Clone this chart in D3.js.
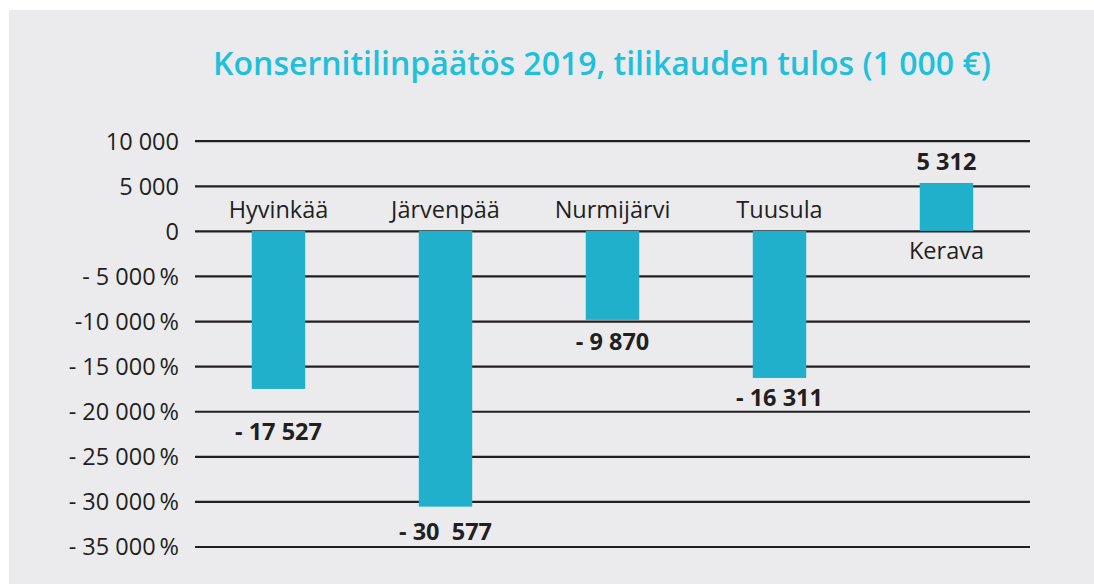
<!DOCTYPE html>
<html>
<head>
<meta charset="utf-8">
<script src="https://cdn.jsdelivr.net/npm/d3@7"></script>
<style>
  body { margin: 0; background: #ffffff; }
  text { font-family: "Open Sans", sans-serif; }
</style>
</head>
<body>
<div id="chart"></div>
<script>
// Data
var municipalities = ["Hyvinkää", "Järvenpää", "Nurmijärvi", "Tuusula", "Kerava"];
var results = [-17527, -30577, -9870, -16311, 5312];
var resultLabels = ["- 17 527", "- 30  577", "- 9 870", "- 16 311", "5 312"];
var tickValues = [10000, 5000, 0, -5000, -10000, -15000, -20000, -25000, -30000, -35000];
var tickLabels = ["10 000", "5 000", "0", "- 5 000\u2009%", "-10 000\u2009%", "- 15 000\u2009%",
  "- 20 000\u2009%", "- 25 000\u2009%", "- 30 000\u2009%", "- 35 000\u2009%"];
var chartTitle = "Konsernitilinpäätös 2019, tilikauden tulos (1 000 €)";

var svgWidth = 1094;
var svgHeight = 584;

// value label nudges (px below/above the bar end)
var valueLabelDy = [51, 33, 30, 28, -13];

var svg = d3.select("#chart")
  .append("svg")
  .attr("width", svgWidth)
  .attr("height", svgHeight);

// grey panel
svg.append("rect")
  .attr("x", 9)
  .attr("y", 10)
  .attr("width", svgWidth - 9)
  .attr("height", svgHeight - 10)
  .attr("fill", "#ebebed");

// Scales
var xBandScale = d3.scaleBand()
  .domain(municipalities)
  .range([195, 1030])
  .paddingInner(0.68)
  .paddingOuter(0.34);

var yLinearScale = d3.scaleLinear()
  .domain([10000, -35000])
  .range([140.7, 546.5]);

// Gridlines + tick labels through the axis
var leftAxis = d3.axisLeft(yLinearScale)
  .tickValues(tickValues)
  .tickSize(-(1030 - 195))
  .tickPadding(16)
  .tickFormat(function(d, i) { return tickLabels[i]; });

var axisGroup = svg.append("g")
  .attr("transform", "translate(195, 0)")
  .call(leftAxis);

axisGroup.select(".domain").remove();
axisGroup.selectAll(".tick line")
  .attr("stroke", "#231f20")
  .attr("stroke-width", 2.2);
axisGroup.selectAll(".tick text")
  .attr("fill", "#231f20")
  .attr("font-size", "23.5px")
  .attr("font-family", "Open Sans, sans-serif")
  .attr("dy", "0.36em");

// Bars
svg.selectAll(".bar")
  .data(results)
  .enter()
  .append("rect")
  .attr("class", "bar")
  .attr("x", function(d, i) { return xBandScale(municipalities[i]); })
  .attr("y", function(d) { return yLinearScale(Math.max(0, d)); })
  .attr("width", xBandScale.bandwidth())
  .attr("height", function(d) { return Math.abs(yLinearScale(d) - yLinearScale(0)); })
  .attr("fill", "#20b0cb");

// Category labels (above zero for negatives, below for positives)
svg.selectAll(".cat")
  .data(results)
  .enter()
  .append("text")
  .attr("class", "cat")
  .attr("x", function(d, i) { return xBandScale(municipalities[i]) + xBandScale.bandwidth() / 2; })
  .attr("y", function(d) { return yLinearScale(0) + (d < 0 ? -13 : 28); })
  .attr("text-anchor", "middle")
  .attr("font-size", "23.5px")
  .attr("fill", "#231f20")
  .text(function(d, i) { return municipalities[i]; });

// Value labels
svg.selectAll(".val")
  .data(results)
  .enter()
  .append("text")
  .attr("class", "val")
  .attr("x", function(d, i) { return xBandScale(municipalities[i]) + xBandScale.bandwidth() / 2; })
  .attr("y", function(d, i) { return yLinearScale(d) + valueLabelDy[i]; })
  .attr("text-anchor", "middle")
  .attr("font-size", "23.5px")
  .attr("font-weight", "bold")
  .attr("fill", "#231f20")
  .style("white-space", "pre")
  .text(function(d, i) { return resultLabels[i]; });

// Title
svg.append("text")
  .attr("x", 602)
  .attr("y", 75)
  .attr("text-anchor", "middle")
  .attr("font-size", "32px")
  .attr("font-weight", 600)
  .attr("fill", "#1ec0dc")
  .text(chartTitle);
</script>
</body>
</html>
